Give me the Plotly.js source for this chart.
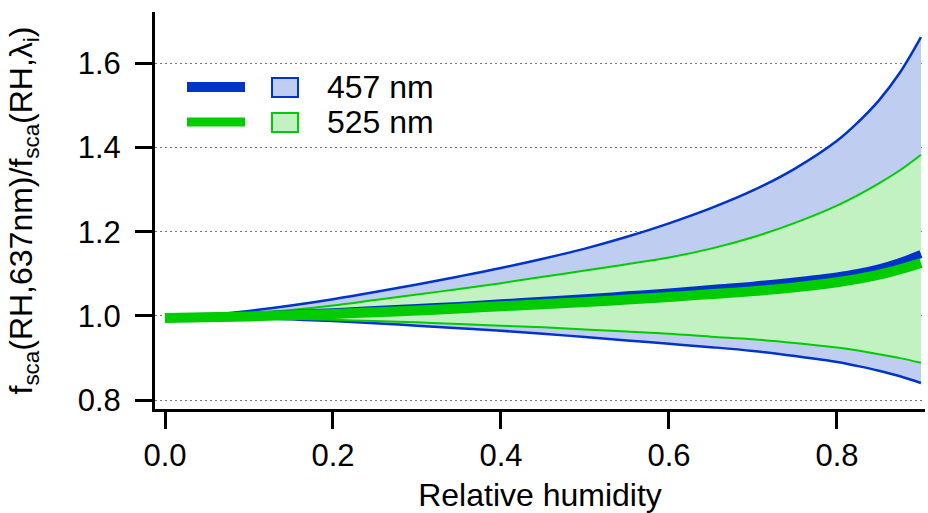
<!DOCTYPE html>
<html>
<head>
<meta charset="utf-8">
<script src="https://cdn.plot.ly/plotly-3.0.1.min.js"></script>
<style>html,body{margin:0;padding:0;background:#fff;}#chart{width:928px;height:513px;}</style>
</head>
<body>
<div id="chart"></div>
<script>
const rh = [0.0, 0.05, 0.1, 0.15, 0.2, 0.25, 0.3, 0.35, 0.4, 0.45, 0.5, 0.55, 0.6, 0.65, 0.7, 0.75, 0.8, 0.825, 0.85, 0.875, 0.9];
const blueUpper = [0.995, 1.001, 1.012, 1.025, 1.040, 1.057, 1.075, 1.094, 1.114, 1.136, 1.160, 1.188, 1.220, 1.256, 1.298, 1.350, 1.416, 1.460, 1.512, 1.578, 1.662];
const blueMean  = [0.995, 0.998, 1.001, 1.005, 1.009, 1.014, 1.019, 1.024, 1.030, 1.036, 1.042, 1.049, 1.056, 1.064, 1.072, 1.082, 1.094, 1.102, 1.113, 1.128, 1.147];
const blueLower = [0.995, 0.997, 0.996, 0.992, 0.988, 0.983, 0.977, 0.971, 0.965, 0.958, 0.950, 0.942, 0.934, 0.926, 0.917, 0.905, 0.891, 0.881, 0.870, 0.857, 0.841];
const greenUpper = [0.995, 0.998, 1.005, 1.014, 1.025, 1.038, 1.051, 1.064, 1.078, 1.093, 1.108, 1.123, 1.139, 1.160, 1.187, 1.221, 1.262, 1.287, 1.315, 1.346, 1.383];
const greenMean  = [0.995, 0.997, 0.999, 1.002, 1.005, 1.009, 1.013, 1.018, 1.023, 1.028, 1.033, 1.039, 1.045, 1.052, 1.059, 1.068, 1.080, 1.088, 1.098, 1.111, 1.126];
const greenLower = [0.995, 0.997, 0.997, 0.994, 0.991, 0.988, 0.985, 0.981, 0.977, 0.973, 0.968, 0.963, 0.958, 0.951, 0.945, 0.936, 0.925, 0.918, 0.909, 0.900, 0.889];
const seriesNames = ["457 nm", "525 nm"];
const xTicks = [0.0, 0.2, 0.4, 0.6, 0.8];
const yTicks = [0.8, 1.0, 1.2, 1.4, 1.6];

const BLUE = "#0033cc", BLUE_FILL = "#bfcdf0";
const GREEN = "#00cc00", GREEN_FILL = "#c2f2c2";
const sp = {shape: "spline", smoothing: 1};

const traces = [
  {x: rh, y: blueLower, mode: "lines", line: Object.assign({width: 0, color: BLUE}, sp), hoverinfo: "skip", showlegend: false},
  {x: rh, y: blueUpper, mode: "lines", fill: "tonexty", fillcolor: BLUE_FILL, line: Object.assign({width: 0, color: BLUE}, sp), hoverinfo: "skip", showlegend: false},
  {x: rh, y: greenLower, mode: "lines", line: Object.assign({width: 0, color: GREEN}, sp), hoverinfo: "skip", showlegend: false},
  {x: rh, y: greenUpper, mode: "lines", fill: "tonexty", fillcolor: GREEN_FILL, line: Object.assign({width: 0, color: GREEN}, sp), hoverinfo: "skip", showlegend: false},
  {x: rh, y: blueUpper, mode: "lines", line: Object.assign({width: 2.5, color: BLUE}, sp), showlegend: false},
  {x: rh, y: blueLower, mode: "lines", line: Object.assign({width: 2.5, color: BLUE}, sp), showlegend: false},
  {x: rh, y: greenUpper, mode: "lines", line: Object.assign({width: 2, color: GREEN}, sp), showlegend: false},
  {x: rh, y: greenLower, mode: "lines", line: Object.assign({width: 2, color: GREEN}, sp), showlegend: false},
  {x: rh, y: blueMean, mode: "lines", name: seriesNames[0], line: Object.assign({width: 8, color: BLUE}, sp), showlegend: false},
  {x: rh, y: greenMean, mode: "lines", name: seriesNames[1], line: Object.assign({width: 10, color: GREEN}, sp), showlegend: false}
];

const W = 770, H = 397; // plot area in px
function px(x) { return (x - 155) / W; }
function py(y) { return (409 - y) / H; }

const shapes = [
  {type: "line", xref: "paper", yref: "paper", x0: px(187), x1: px(245), y0: py(87), y1: py(87), line: {color: BLUE, width: 10}},
  {type: "rect", xref: "paper", yref: "paper", x0: px(272), x1: px(298), y0: py(78), y1: py(97), fillcolor: BLUE_FILL, line: {color: BLUE, width: 2}},
  {type: "line", xref: "paper", yref: "paper", x0: px(187), x1: px(245), y0: py(122), y1: py(122), line: {color: GREEN, width: 9}},
  {type: "rect", xref: "paper", yref: "paper", x0: px(272), x1: px(298), y0: py(113), y1: py(132), fillcolor: GREEN_FILL, line: {color: GREEN, width: 2}}
];
const annotations = [
  {xref: "paper", yref: "paper", x: px(325), y: py(87), text: seriesNames[0], showarrow: false, xanchor: "left", yanchor: "middle", font: {size: 32, color: "#000"}},
  {xref: "paper", yref: "paper", x: px(325), y: py(122), text: seriesNames[1], showarrow: false, xanchor: "left", yanchor: "middle", font: {size: 32, color: "#000"}}
];

const layout = {
  width: 928, height: 513,
  margin: {l: 155, r: 3, t: 12, b: 104, pad: 0},
  paper_bgcolor: "#fff", plot_bgcolor: "#fff",
  font: {family: "Liberation Sans, Arial, sans-serif", size: 31, color: "#000"},
  showlegend: false,
  xaxis: {
    range: [-0.0119, 0.9048], tickvals: xTicks, ticktext: xTicks.map(v => v.toFixed(1)),
    showline: true, linewidth: 3, linecolor: "#000", ticks: "outside", ticklen: 17, tickwidth: 3, tickcolor: "#000",
    tickfont: {size: 31},
    showgrid: false, zeroline: false,
    title: {text: "Relative humidity", font: {size: 32}, standoff: 12}
  },
  yaxis: {
    range: [0.7792, 1.7217], tickvals: yTicks, ticktext: yTicks.map(v => v.toFixed(1)),
    showline: true, linewidth: 3, linecolor: "#000", ticks: "outside", ticklen: 17, tickwidth: 3, tickcolor: "#000",
    tickfont: {size: 31}, ticklabelstandoff: 8,
    showgrid: true, gridcolor: "#777", gridwidth: 1, griddash: "2px,3px", zeroline: false,
    title: {text: "f<sub>sca</sub>(RH,637nm)/f<sub>sca</sub>(RH,λ<sub>i</sub>)", font: {size: 32}, standoff: 36}
  },
  shapes: shapes,
  annotations: annotations
};

Plotly.newPlot("chart", traces, layout, {staticPlot: true, displayModeBar: false});
</script>
</body>
</html>
